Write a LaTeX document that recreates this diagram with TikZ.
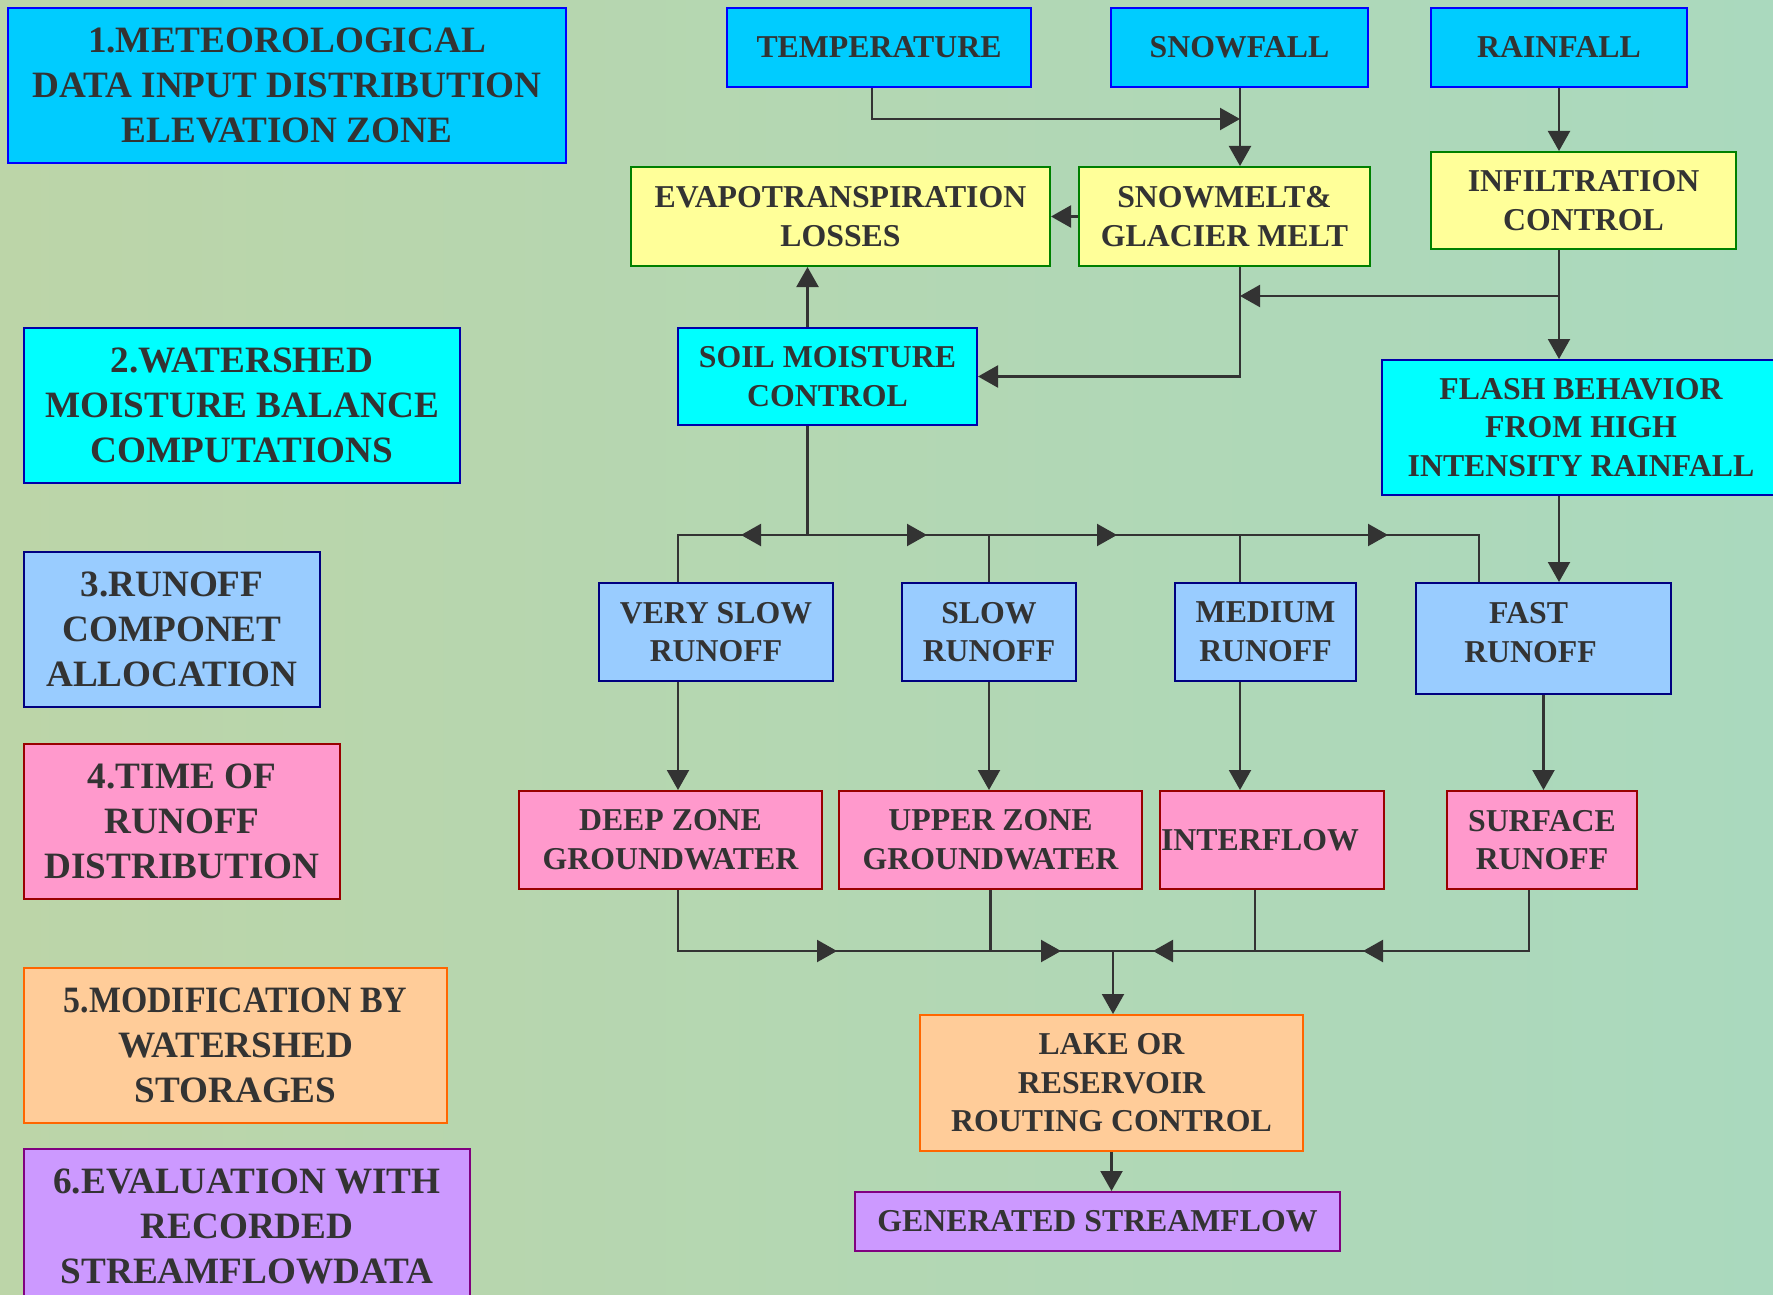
\documentclass[tikz,border=0pt]{standalone}
\usepackage{fontspec}
\setmainfont{Liberation Serif}
\usetikzlibrary{arrows.meta}

\definecolor{ink}{HTML}{333333}
\definecolor{skyfill}{HTML}{00CCFF}
\definecolor{aquafill}{HTML}{00FFFF}
\definecolor{yellowfill}{HTML}{FFFF99}
\definecolor{runofffill}{HTML}{99CCFF}
\definecolor{rosefill}{HTML}{FF99CC}
\definecolor{orangefill}{HTML}{FFCC99}
\definecolor{lilacfill}{HTML}{CC99FF}
\definecolor{blueline}{HTML}{0000FF}
\definecolor{darkblueline}{HTML}{0000AA}
\definecolor{navyline}{HTML}{000080}
\definecolor{greenline}{HTML}{008000}
\definecolor{redline}{HTML}{990000}
\definecolor{orangeline}{HTML}{FF6600}
\definecolor{purpleline}{HTML}{800080}
\definecolor{bgleft}{HTML}{BCD5A8}
\definecolor{bgmid}{HTML}{B3D8AE}
\definecolor{bgright}{HTML}{AAD9BE}

\tikzset{
  rbox/.style={draw, line width=1pt, inner sep=0pt, align=center, text=ink,
    font={\fontsize{15.9pt}{19.3pt}\selectfont\bfseries}},
  stage/.style={rbox, minimum height=77.5pt,
    font={\fontsize{18.6pt}{22.5pt}\selectfont\bfseries}},
  meteo/.style={fill=skyfill, draw=blueline},
  balance/.style={fill=aquafill, draw=darkblueline},
  losses/.style={fill=yellowfill, draw=greenline},
  runoffc/.style={fill=runofffill, draw=navyline},
  zonec/.style={fill=rosefill, draw=redline},
  storec/.style={fill=orangefill, draw=orangeline},
  evalc/.style={fill=lilacfill, draw=purpleline},
  link/.style={draw=ink, line width=1.1pt},
  flow/.style={link, -{Triangle[length=10pt,width=11pt]}},
}

\begin{document}
\begin{tikzpicture}[x=0.5pt, y=-0.5pt]
\useasboundingbox (0,0) rectangle (1773,1295);
\clip (0,0) rectangle (1773,1295);
\shade[left color=bgleft, middle color=bgmid, right color=bgright] (0,0) rectangle (1773,1295);

% stages of the model
\node[stage, meteo, minimum width=279pt] (st1) at (287,85.5) {1.METEOROLOGICAL\\DATA INPUT DISTRIBUTION\\ELEVATION ZONE};
\node[stage, balance, minimum width=218pt] (st2) at (242,405.5) {2.WATERSHED\\MOISTURE BALANCE\\COMPUTATIONS};
\node[stage, runoffc, minimum width=148pt] (st3) at (172,629.5) {3.RUNOFF\\COMPONET\\ALLOCATION};
\node[stage, zonec, minimum width=158pt] (st4) at (182,821.5) {4.TIME OF\\RUNOFF\\DISTRIBUTION};
\node[stage, storec, minimum width=211.5pt] (st5) at (235.5,1045.5) {\scalebox{0.91}[1]{5.MODIFICATION BY}\\WATERSHED\\STORAGES};
\node[stage, evalc, minimum width=223pt] (st6) at (247,1226.5) {6.EVALUATION WITH\\RECORDED\\STREAMFLOWDATA};

% inputs
\node[rbox, meteo, minimum width=152pt, minimum height=39.5pt] (temp) at (879,47.5) {TEMPERATURE};
\node[rbox, meteo, minimum width=128.5pt, minimum height=39.5pt] (snow) at (1239.5,47.5) {SNOWFALL};
\node[rbox, meteo, minimum width=128pt, minimum height=39.5pt] (rain) at (1559,47.5) {RAINFALL};

\node[rbox, losses, minimum width=209.5pt, minimum height=49.5pt] (evap) at (840.5,216.5) {EVAPOTRANSPIRATION\\LOSSES};
\node[rbox, losses, minimum width=145.5pt, minimum height=49.5pt] (melt) at (1224.5,216.5) {SNOWMELT\&\\GLACIER MELT};
\node[rbox, losses, minimum width=152.5pt, minimum height=48.5pt] (infil) at (1583.5,200.5) {INFILTRATION\\CONTROL};

\node[rbox, balance, minimum width=149.5pt, minimum height=48.5pt] (soil) at (827.5,376.5) {SOIL MOISTURE\\CONTROL};
\node[rbox, balance, minimum width=199pt, minimum height=67.5pt] (flash) at (1581,427.5) {FLASH BEHAVIOR\\FROM HIGH\\INTENSITY RAINFALL};

% runoff components
\node[rbox, runoffc, minimum width=117pt, minimum height=49pt] (vslow) at (716,632) {VERY SLOW\\RUNOFF};
\node[rbox, runoffc, minimum width=87pt, minimum height=49pt] (slow) at (989,632) {SLOW\\RUNOFF};
\node[rbox, runoffc, minimum width=90.5pt, minimum height=49pt] (medium) at (1265.5,632) {MEDIUM\\RUNOFF};
\node[rbox, runoffc, minimum width=127.5pt, minimum height=55.5pt] (fast) at (1543.5,638.5) {FAST\hspace*{15pt}\\RUNOFF\hspace*{13pt}\rule[-6pt]{0pt}{0pt}};

\node[rbox, zonec, minimum width=151.5pt, minimum height=49pt] (deep) at (670.5,840) {DEEP ZONE\\GROUNDWATER};
\node[rbox, zonec, minimum width=151.5pt, minimum height=49pt] (upper) at (990.5,840) {UPPER ZONE\\GROUNDWATER};
\node[rbox, zonec, minimum width=112pt, minimum height=49pt] (inter) at (1272,840) {INTERFLOW\hspace{12pt}};
\node[rbox, zonec, minimum width=95pt, minimum height=49pt] (surf) at (1542,840) {SURFACE\\RUNOFF};

\node[rbox, storec, minimum width=191.5pt, minimum height=68pt] (lake) at (1111.5,1083) {LAKE OR\\RESERVOIR\\ROUTING CONTROL};
\node[rbox, evalc, minimum width=242.5pt, minimum height=29.5pt] (gen) at (1097.5,1221.5) {GENERATED STREAMFLOW};

% junctions
\coordinate (tj) at (1240,119);
\coordinate (mj) at (1240,376.5);
\coordinate (ij) at (1559,296);
\coordinate (dj) at (807.5,535);
\coordinate (sa) at (678,535);
\coordinate (sb) at (1479,535);
\coordinate (m1) at (741,535);
\coordinate (m2) at (927,535);
\coordinate (m3) at (1117,535);
\coordinate (m4) at (1388,535);
\coordinate (ca) at (678,951);
\coordinate (cb) at (1529,951);
\coordinate (cj) at (1113,951);
\coordinate (n1) at (837,951);
\coordinate (n2) at (1061,951);
\coordinate (n3) at (1153,951);
\coordinate (n4) at (1363,951);

% inputs to melt and infiltration
\draw[flow] ([xshift=-3.5pt]temp.south) |- (tj);
\draw[flow] (snow.south -| tj) -- (melt.north -| tj);
\draw[flow] (rain.south) -- (rain.south |- infil.north);
\draw[flow] (melt.west) -- (evap.east);
\draw[flow] (soil.north -| dj) -- (evap.south -| dj);
\draw[flow] (melt.south -| mj) |- (soil.east);
\draw[flow] (infil.south -| rain) -- (flash.north -| rain);
\draw[flow] (ij) -- (ij -| mj);
\draw[flow] (flash.south -| rain) -- (fast.north -| rain);

% allocation of soil moisture
\draw[link] (soil.south -| dj) -- (dj);
\draw[link] (vslow.north -| sa) |- (sb) -- (fast.north -| sb);
\draw[link] (slow.north) -- (slow.north |- sa);
\draw[link] (medium.north -| mj) -- (mj |- sa);
\draw[flow] (dj) -- (m1);
\draw[flow] (dj) -- (m2);
\draw[flow] (m2) -- (m3);
\draw[flow] (m3) -- (m4);

% runoff to zones
\draw[flow] (vslow.south -| sa) -- (deep.north -| sa);
\draw[flow] (slow.south) -- (slow.south |- upper.north);
\draw[flow] (medium.south -| mj) -- (inter.north -| mj);
\draw[flow] (fast.south) -- (fast.south |- surf.north);

% zones to lake
\draw[link] (deep.south -| ca) |- (cb) -- (surf.south -| cb);
\draw[link] (upper.south) -- (upper.south |- ca);
\draw[link] ([xshift=-8.5pt]inter.south) -- ([xshift=-8.5pt]inter.south |- ca);
\draw[flow] (ca) -- (n1);
\draw[flow] (n1) -- (n2);
\draw[flow] (cb) -- (n4);
\draw[flow] (n4) -- (n3);
\draw[flow] (cj) -- (cj |- lake.north);
\draw[flow] (lake.south) -- (lake.south |- gen.north);
\end{tikzpicture}
\end{document}
